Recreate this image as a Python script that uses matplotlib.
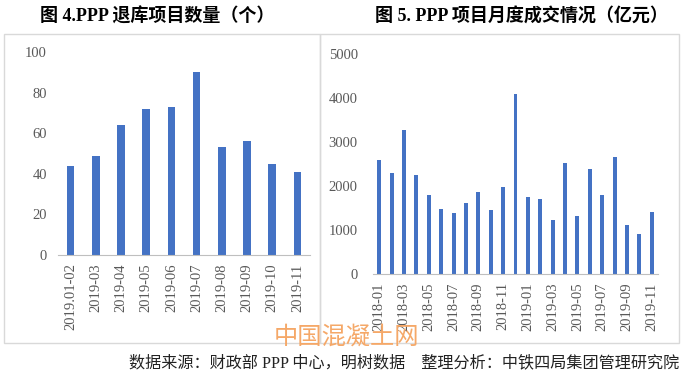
import matplotlib
matplotlib.use("Agg")
import matplotlib.pyplot as plt
from matplotlib.patches import Rectangle

plt.rcParams['font.family'] = ['Liberation Serif', 'Noto Sans CJK SC', 'DejaVu Sans']

# Left chart: PPP withdrawn projects
left_cats = ["2019.01-02", "2019-03", "2019-04", "2019-05", "2019-06",
             "2019-07", "2019-08", "2019-09", "2019-10", "2019-11"]
left_vals = [44, 49, 64, 72, 73, 90, 53, 56, 45, 41]
left_yticks = [0, 20, 40, 60, 80, 100]

# Right chart: monthly transactions (100 million yuan)
right_cats = ["2018-01", "2018-02", "2018-03", "2018-04", "2018-05", "2018-06",
              "2018-07", "2018-08", "2018-09", "2018-10", "2018-11", "2018-12",
              "2019-01", "2019-02", "2019-03", "2019-04", "2019-05", "2019-06",
              "2019-07", "2019-08", "2019-09", "2019-10", "2019-11"]
right_vals = [2590, 2290, 3270, 2250, 1800, 1470, 1380, 1620, 1860, 1460, 1985, 4090,
              1745, 1705, 1230, 2530, 1320, 2395, 1790, 2665, 1115, 900, 1420]
right_yticks = [0, 1000, 2000, 3000, 4000, 5000]

left_title = "图 4.PPP 退库项目数量（个）"
right_title = "图 5. PPP 项目月度成交情况（亿元）"
footer = "数据来源：财政部 PPP 中心，明树数据    整理分析：中铁四局集团管理研究院"
watermark = "中国混凝土网"

W, H = 690, 380
fig = plt.figure(figsize=(W / 100, H / 100), dpi=100)
fig.patch.set_facecolor("white")

def fx(px):
    return px / W

def fy(py):
    return 1 - py / H

bar_color = "#4472C4"
tick_color = "#595959"
border = "#D9D9D9"

# panel borders
fig.patches.append(Rectangle((fx(4), fy(343)), fx(316), (343 - 34) / H,
                             transform=fig.transFigure, fill=False,
                             edgecolor=border, linewidth=1.0))
fig.patches.append(Rectangle((fx(320), fy(343)), fx(359), (343 - 34) / H,
                             transform=fig.transFigure, fill=False,
                             edgecolor=border, linewidth=1.0))

def style(ax):
    for s in ["top", "right", "left"]:
        ax.spines[s].set_visible(False)
    ax.spines["bottom"].set_color("#BFBFBF")
    ax.tick_params(axis="both", length=0, colors=tick_color, labelsize=10.5)
    ax.set_facecolor("none")

# Left axes
axL = fig.add_axes([fx(58), fy(255), fx(252), (255 - 52) / H])
xL = list(range(len(left_cats)))
axL.bar(xL, left_vals, width=0.3, color=bar_color)
axL.set_xlim(-0.5, len(left_cats) - 0.5)
axL.set_ylim(0, 100)
axL.set_yticks(left_yticks)
axL.set_xticks(xL)
axL.set_xticklabels(left_cats, rotation=90)
axL.tick_params(axis="y", pad=8)
axL.tick_params(axis="x", pad=6)
style(axL)

# Right axes
axR = fig.add_axes([fx(373), fy(274), fx(285), (274 - 54) / H])
xR = list(range(len(right_cats)))
axR.bar(xR, right_vals, width=0.32, color=bar_color)
axR.set_xlim(-0.5, len(right_cats) - 0.5)
axR.set_ylim(0, 5000)
axR.set_yticks(right_yticks)
axR.set_xticks(xR[::2])
axR.set_xticklabels(right_cats[::2], rotation=90)
axR.tick_params(axis="y", pad=11)
axR.tick_params(axis="x", pad=6)
style(axR)

# Titles
fig.text(fx(157), fy(17), left_title, ha="center", va="center", fontsize=13,
         fontweight="bold", family=["Liberation Serif", "Noto Sans CJK SC"])
fig.text(fx(521), fy(17), right_title, ha="center", va="center", fontsize=13,
         fontweight="bold", family=["Liberation Serif", "Noto Sans CJK SC"])

# Watermark
fig.text(fx(346), fy(337), watermark, ha="center", va="center", fontsize=17.5,
         color="#F5A868", family=["Noto Sans CJK SC"])

# Footer
fig.text(fx(679), fy(363), footer, ha="right", va="center", fontsize=11.6,
         color="#222222", family=["Liberation Serif", "Noto Sans CJK SC"])

fig.savefig("out.png", dpi=100, facecolor="white")
